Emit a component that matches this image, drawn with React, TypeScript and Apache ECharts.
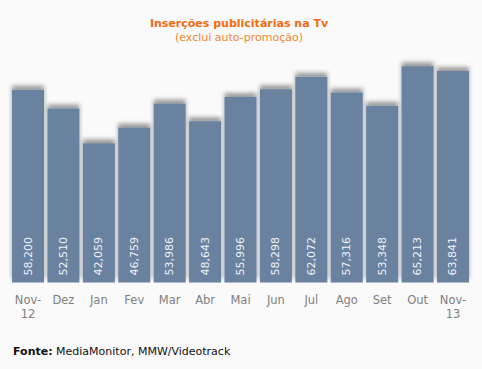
import React, { useEffect, useRef } from "react";
import * as echarts from "echarts";

const categories = ["Nov-\n12", "Dez", "Jan", "Fev", "Mar", "Abr", "Mai", "Jun", "Jul", "Ago", "Set", "Out", "Nov-\n13"];
const values = [58200, 52510, 42059, 46759, 53986, 48643, 55996, 58298, 62072, 57316, 53348, 65213, 63841];
const titleText = "Inserções publicitárias na Tv";
const subtitleText = "(exclui auto-promoção)";
const sourceLabel = "Fonte:";
const sourceText = "MediaMonitor, MMW/Videotrack";

const fmt = (v: number) => v.toLocaleString("en-US");

export default function App() {
  const ref = useRef<HTMLDivElement>(null);
  useEffect(() => {
    if (!ref.current) return;
    const chart = echarts.init(ref.current, null, { renderer: "svg" });
    chart.setOption({
      animation: false,
      backgroundColor: "#fafafa",
      textStyle: { fontFamily: "DejaVu Sans" },
      title: [
        {
          text: titleText,
          subtext: subtitleText,
          left: 234,
          textAlign: "center",
          top: 13,
          itemGap: 3,
          textStyle: { fontSize: 11, fontWeight: "bold", color: "#f26a10", fontFamily: "DejaVu Sans" },
          subtextStyle: { fontSize: 11, color: "#f5842c", fontFamily: "DejaVu Sans" },
        },
      ],
      graphic: [
        {
          type: "text",
          left: 13,
          top: 346,
          style: {
            text: "{b|" + sourceLabel + "} " + sourceText,
            rich: {
              b: { fontWeight: "bold", fontSize: 11, fill: "#111", fontFamily: "DejaVu Sans" },
            },
            fontSize: 11,
            fill: "#111",
            fontFamily: "DejaVu Sans",
          },
        },
      ],
      grid: { left: 10.3, right: 11.3, top: 50.5, bottom: 86.4, containLabel: false },
      xAxis: {
        type: "category",
        data: categories,
        axisLine: { show: false },
        axisTick: { show: false },
        axisLabel: { color: "#808080", fontSize: 11.5, margin: 10, lineHeight: 14, interval: 0 },
      },
      yAxis: {
        type: "value",
        min: 0,
        max: 70000,
        show: false,
        splitLine: { show: false },
      },
      series: [
        {
          type: "bar",
          data: values,
          barWidth: 32,
          itemStyle: {
            color: "#6882a0",
            shadowColor: "rgba(0,0,0,0.38)",
            shadowBlur: 4,
            shadowOffsetY: -4,
          },
          label: {
            show: true,
            position: "insideBottom",
            rotate: 90,
            align: "left",
            verticalAlign: "middle",
            distance: 7,
            color: "#eef2f6",
            fontSize: 11,
            fontFamily: "DejaVu Sans",
            formatter: (p: any) => fmt(p.value),
          },
        },
      ],
    });
    return () => chart.dispose();
  }, []);
  return (
    <div
      ref={ref}
      style={{ position: "fixed", left: 0, top: 0, width: 482, height: 369 }}
    />
  );
}
